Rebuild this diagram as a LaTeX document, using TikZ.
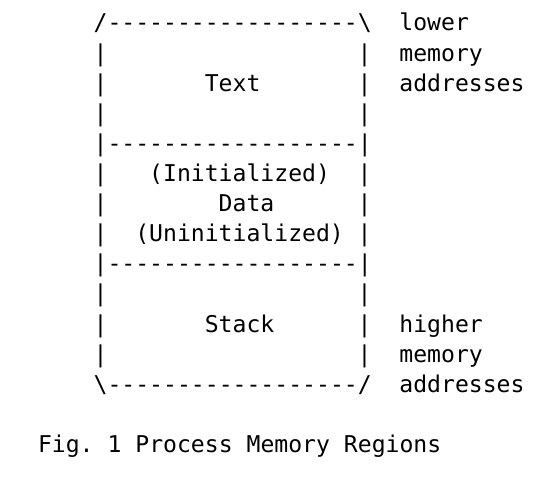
\documentclass[tikz,border=0pt]{standalone}
\usepackage{fontspec}
\setmonofont{DejaVu Sans Mono}

\tikzset{
  ascii/.style={font=\ttfamily\fontsize{23.1}{30}\selectfont,anchor=base west,inner sep=0pt,outer sep=0pt}
}
\def\cw{13.9pt}
\def\lh{30.1pt}

\begin{document}
\begin{tikzpicture}[x=1pt,y=1pt]
  \useasboundingbox (-38,31) rectangle (502,-447);

  % top and bottom edges of the region box
  \node[ascii] (Top) at ({4*\cw},{-0*\lh}) {/------------------\textbackslash};
  \node[ascii] (SepA) at ({4*\cw},{-4*\lh}) {|------------------|};
  \node[ascii] (SepB) at ({4*\cw},{-8*\lh}) {|------------------|};
  \node[ascii] (Bottom) at ({4*\cw},{-12*\lh}) {\textbackslash------------------/};

  % side bars
  \foreach \r in {1,2,3,5,6,7,9,10,11} {
    \node[ascii] (L\r) at ({4*\cw},{-\r*\lh}) {|};
    \node[ascii] (R\r) at ({23*\cw},{-\r*\lh}) {|};
  }

  % region names
  \node[ascii] (Text) at ({12*\cw},{-2*\lh}) {Text};
  \node[ascii] (Init) at ({8*\cw},{-5*\lh}) {(Initialized)};
  \node[ascii] (Data) at ({13*\cw},{-6*\lh}) {Data};
  \node[ascii] (Uninit) at ({7*\cw},{-7*\lh}) {(Uninitialized)};
  \node[ascii] (Stack) at ({12*\cw},{-10*\lh}) {Stack};

  % address notes
  \foreach \s [count=\n from 0] in {lower,memory,addresses}
    \node[ascii] (Low\n) at ({26*\cw},{-\n*\lh}) {\s};
  \foreach \s [count=\n from 10] in {higher,memory,addresses}
    \node[ascii] (High\n) at ({26*\cw},{-\n*\lh}) {\s};

  \node[ascii] (Caption) at (0,{-14*\lh}) {Fig. 1 Process Memory Regions};
\end{tikzpicture}
\end{document}
